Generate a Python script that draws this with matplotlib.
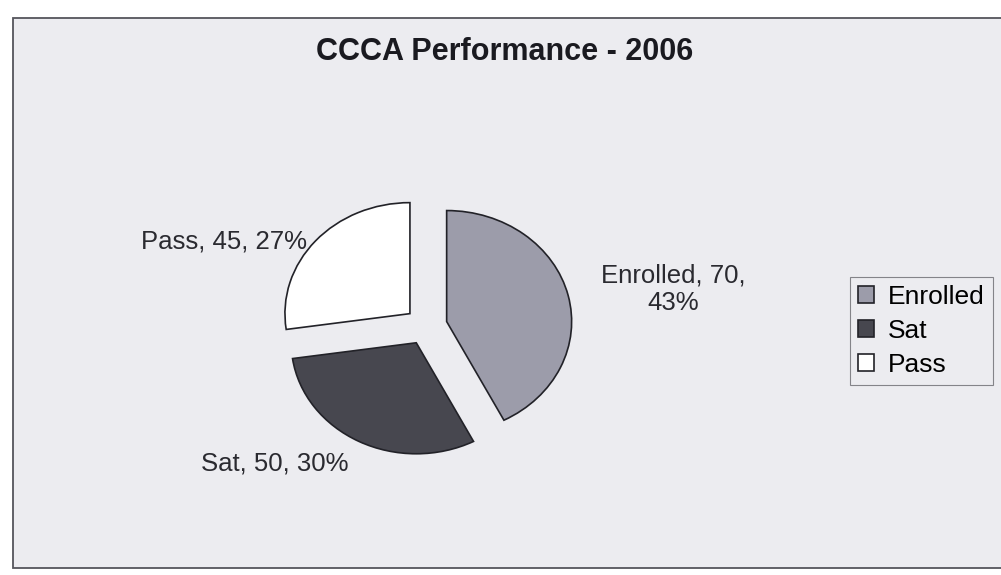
"""CCCA Performance - 2006, pie chart"""
import matplotlib.pyplot as plt
from matplotlib.patches import Rectangle

plt.rcParams['font.family'] = ['Liberation Sans', 'DejaVu Sans']

categorias = ['Enrolled', 'Sat', 'Pass']
valores = [70, 50, 45]
porcentajes = [43, 30, 27]  # tal como aparecen impresos
colores = ['#9c9caa', '#47474f', '#ffffff']

W, H = 1001, 575
fig = plt.figure(figsize=(W / 100, H / 100), dpi=100)
fig.patch.set_facecolor('white')

# marco del area del grafico
fondo = Rectangle((13 / W, 1 - 568 / H), 1.0, (568 - 18) / H,
                  transform=fig.transFigure, facecolor='#ececf0',
                  edgecolor='#55555c', linewidth=1.3, zorder=-5)
fig.patches.append(fondo)

# pie: centro (426, 326) px, radios 125 x 111 px (la foto esta algo estirada)
cx, cy, rx, ry = 426, 326, 125, 111
ax = fig.add_axes([(cx - 1.3 * rx) / W, (H - cy - 1.3 * ry) / H,
                   2.6 * rx / W, 2.6 * ry / H])

wedges, _ = ax.pie(valores, colors=colores, startangle=90, counterclock=False,
                   explode=[0.17, 0.17, 0.17],
                   wedgeprops=dict(edgecolor='#222228', linewidth=1.2))
ax.set_aspect('auto')
ax.set_xlim(-1.3, 1.3)
ax.set_ylim(-1.3, 1.3)
ax.axis('off')

# etiquetas (posicion en px de la imagen)
pos_etiquetas = [(673, 289), (275, 463), (224, 242)]
for nombre, v, p, (x, y) in zip(categorias, valores, porcentajes, pos_etiquetas):
    if nombre == 'Enrolled':
        txt = f"{nombre}, {v},\n{p}%"
    else:
        txt = f"{nombre}, {v}, {p}%"
    fig.text(x / W, 1 - y / H, txt, ha='center', va='center', fontsize=18.5,
             color='#2a2a30', linespacing=1.2)

fig.text(505 / W, 1 - 52 / H, 'CCCA Performance - 2006', ha='center', va='center',
         fontsize=22, fontweight='bold', color='#1a1a20')

leg = fig.legend(wedges, categorias, loc='center left',
                 bbox_to_anchor=(850 / W, 1 - 331 / H), fontsize=19,
                 frameon=True, fancybox=False, handlelength=0.6, handleheight=0.6,
                 handletextpad=0.55, labelspacing=0.38, borderpad=0.3,
                 borderaxespad=0)
leg.get_frame().set_edgecolor('#6a6a70')
leg.get_frame().set_facecolor('#ececf0')
leg.get_frame().set_linewidth(0.8)

fig.savefig('out.png', dpi=100)
